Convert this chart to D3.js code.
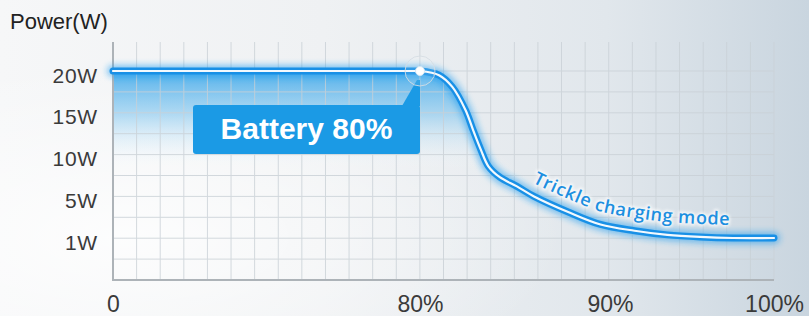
<!DOCTYPE html>
<html><head><meta charset="utf-8">
<script src="https://cdn.jsdelivr.net/npm/d3@7/dist/d3.min.js"></script>
<style>html,body{margin:0;padding:0;background:#fff;overflow:hidden}</style>
</head><body><svg id="chart" width="809" height="316"></svg>
<script>
// ---- data ----
const battery = [0, 40, 79.5, 80, 81, 81.7, 82.4, 82.8, 83.2, 83.6, 84.2, 85.1, 86, 87.8, 89.5, 91.5, 93.5, 95.5, 97.5, 100];
const power   = [20, 20, 20, 20, 19.5, 18.1, 15.3, 12.9, 10.6, 8.6, 7.3, 6.2, 5.0, 3.5, 2.3, 1.7, 1.3, 1.1, 1.0, 1.0];
const xTickValues = [0, 80, 90, 100];
const xTickLabels = ["0", "80%", "90%", "100%"];
const yTickValues = [20, 15, 10, 5, 1];
const yTickLabels = ["20W", "15W", "10W", "5W", "1W"];
const yTitle = "Power(W)";
const calloutAt = 80;
const calloutLabel = "Battery 80%";
const curveLabel = "Trickle charging mode";

(function () {
const data = battery.map((b, i) => ({b, p: power[i]}));
const svg = d3.select("#chart");
const W = 809, H = 316;
const pL = 113, pR = 774, pT = 42, pB = 280;

const x = d3.scaleLinear().domain([0, 80, 90, 100]).range([pL, 420, 610, pR]);
const y = d3.scaleLinear().domain([0, 1, 5, 10, 15, 20]).range([pB, 238, 196.4, 154.6, 112.8, 71]);
const gx = d3.scaleLinear().domain([0, 28]).range([pL, pR]);
const gy = d3.scaleLinear().domain([0, 10]).range([71, pB]);
const curve = d3.curveCatmullRom.alpha(0.5);

const defs = svg.append("defs");
const bg = defs.append("linearGradient").attr("id", "bg").attr("x1", 0).attr("y1", 0).attr("x2", 1).attr("y2", 0);
[[0, "#f6f7f8"], [0.4, "#eff1f3"], [0.75, "#e1e7ec"], [1, "#c9d5df"]].forEach(s => bg.append("stop").attr("offset", s[0]).attr("stop-color", s[1]));
const rg = defs.append("radialGradient").attr("id", "glowbg").attr("cx", 0.15).attr("cy", 0.75).attr("r", 0.55);
rg.append("stop").attr("offset", 0).attr("stop-color", "#ffffff").attr("stop-opacity", 0.8);
rg.append("stop").attr("offset", 1).attr("stop-color", "#ffffff").attr("stop-opacity", 0);
const ag = defs.append("linearGradient").attr("id", "areaGrad").attr("gradientUnits", "userSpaceOnUse")
  .attr("x1", 0).attr("y1", y(20)).attr("x2", 0).attr("y2", 170);
ag.append("stop").attr("offset", 0).attr("stop-color", "#3ea8ea").attr("stop-opacity", 0.9);
ag.append("stop").attr("offset", 0.45).attr("stop-color", "#7cc4ef").attr("stop-opacity", 0.55);
ag.append("stop").attr("offset", 1).attr("stop-color", "#ffffff").attr("stop-opacity", 0);
const blur = defs.append("filter").attr("id", "blur").attr("x", "-10%").attr("y", "-50%").attr("width", "120%").attr("height", "200%");
blur.append("feGaussianBlur").attr("stdDeviation", 3.2);
const blur2 = defs.append("filter").attr("id", "blur2");
blur2.append("feGaussianBlur").attr("stdDeviation", 1.5);

svg.append("rect").attr("width", W).attr("height", H).attr("fill", "url(#bg)");
svg.append("rect").attr("width", W).attr("height", H).attr("fill", "url(#glowbg)");

// area
const area = d3.area().x(d => x(d.b)).y0(y(0)).y1(d => y(d.p)).curve(curve);
svg.append("path").datum(data).attr("d", area).attr("fill", "url(#areaGrad)");

// grid
const grid = svg.append("g").attr("stroke", "#c9d0d6").attr("stroke-width", 1).attr("opacity", 0.8);
grid.selectAll("line.v").data(d3.range(1, 29)).join("line").attr("class", "v")
  .attr("x1", d => gx(d)).attr("x2", d => gx(d)).attr("y1", pT).attr("y2", pB);
grid.selectAll("line.h").data(d3.range(0, 10)).join("line").attr("class", "h")
  .attr("x1", pL).attr("x2", pR).attr("y1", d => gy(d)).attr("y2", d => gy(d));
// axis lines
svg.append("path").attr("d", `M${pL},${pT}V${pB}H${pR}`).attr("fill", "none")
  .attr("stroke", "#adb3b8").attr("stroke-width", 2);

// axes labels via d3 axes
const yAxis = svg.append("g").attr("transform", `translate(${pL},0)`)
  .call(d3.axisLeft(y).tickValues(yTickValues).tickFormat((d, i) => yTickLabels[i]).tickSize(0).tickPadding(15));
yAxis.select(".domain").remove();
yAxis.selectAll("text").attr("font-family", "Liberation Sans, Arial, sans-serif").attr("font-size", 21)
  .attr("letter-spacing", 0.8).attr("fill", "#3a3a3a").attr("dy", 11);

const xAxis = svg.append("g").attr("transform", `translate(0,${pB})`)
  .call(d3.axisBottom(x).tickValues(xTickValues).tickFormat((d, i) => xTickLabels[i]).tickSize(0).tickPadding(0));
xAxis.select(".domain").remove();
xAxis.selectAll("text").attr("font-family", "Liberation Sans, Arial, sans-serif").attr("font-size", 23)
  .attr("fill", "#3a3a3a").attr("dy", 32);

svg.append("text").attr("x", 10).attr("y", 29).text(yTitle)
  .attr("font-family", "Liberation Sans, Arial, sans-serif").attr("font-size", 22).attr("fill", "#222");

// line
const line = d3.line().x(d => x(d.b)).y(d => y(d.p)).curve(curve);
svg.append("path").datum(data).attr("d", line).attr("fill", "none").attr("stroke", "#1a9cf0")
  .attr("stroke-width", 12).attr("opacity", 0.55).attr("filter", "url(#blur)").attr("stroke-linecap", "round");
svg.append("path").datum(data).attr("d", line).attr("fill", "none").attr("stroke", "#1990e6")
  .attr("stroke-width", 7).attr("stroke-linecap", "round");
svg.append("path").datum(data).attr("d", line).attr("fill", "none").attr("stroke", "#ffffff")
  .attr("stroke-width", 2.2).attr("stroke-linecap", "round").attr("opacity", 0.95);

// callout
const cx = x(calloutAt), cy = y(20);
svg.append("polygon").attr("points", `${cx - 18},${cy + 35} ${cx},${cy + 35} ${cx},${cy + 9} ${cx - 3},${cy + 9}`).attr("fill", "#1b9ae5");
svg.append("rect").attr("x", cx - 227).attr("y", cy + 34).attr("width", 227).attr("height", 49).attr("rx", 3).attr("fill", "#1b9ae5");
svg.append("text").attr("x", cx - 113.5).attr("y", cy + 67.5).attr("text-anchor", "middle").text(calloutLabel)
  .attr("font-family", "Liberation Sans, Arial, sans-serif").attr("font-weight", "bold").attr("font-size", 30).attr("fill", "#fff");
svg.append("circle").attr("cx", cx).attr("cy", cy).attr("r", 15).attr("fill", "rgba(255,255,255,0.12)")
  .attr("stroke", "#d5dde3").attr("stroke-width", 1).attr("opacity", 0.9);
svg.append("circle").attr("cx", cx).attr("cy", cy).attr("r", 4.5).attr("fill", "#fff").attr("stroke", "#d6e8f5").attr("stroke-width", 1);

// curve label along path
const offLine = d3.line().x(d => x(d.b)).y(d => y(d.p) - 13).curve(curve);
defs.append("path").attr("id", "labelPath").datum(data).attr("d", offLine);
const tmp = svg.append("path").datum(data).attr("d", offLine).attr("fill", "none").attr("stroke", "none");
const node = tmp.node();
const total = node.getTotalLength();
let L1 = 0, L2 = total;
for (let l = 0; l < total; l += 0.5) { const p = node.getPointAtLength(l); if (p.x >= 532) { L1 = l; break; } }
for (let l = 0; l < total; l += 0.5) { const p = node.getPointAtLength(l); if (p.x >= 729) { L2 = l; break; } }
tmp.remove();
[["#ffffff", 3, 0.8, "url(#blur2)"], [null, 0, 1, null]].forEach(([stroke, sw, op, filt]) => {
  const t = svg.append("text").attr("font-family", "Open Sans, Noto Sans, sans-serif").attr("font-size", 18)
    .attr("font-weight", 600).attr("fill", stroke ? "#ffffff" : "#1d8fe0").attr("opacity", op);
  if (stroke) t.attr("stroke", stroke).attr("stroke-width", sw).attr("filter", filt);
  t.append("textPath").attr("href", "#labelPath").attr("startOffset", L1)
    .attr("textLength", L2 - L1).attr("lengthAdjust", "spacing").text(curveLabel);
});
})();
</script></body></html>
